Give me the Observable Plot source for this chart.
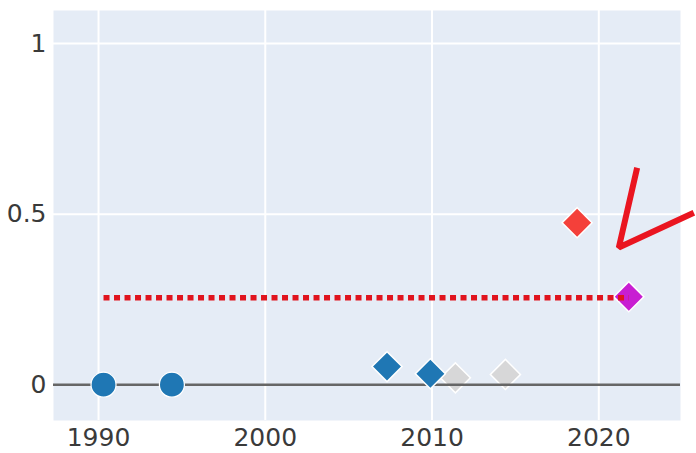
<!DOCTYPE html>
<html>
<head>
<meta charset="utf-8">
<script src="https://cdn.jsdelivr.net/npm/d3@7"></script>
<script src="https://cdn.jsdelivr.net/npm/@observablehq/plot@0.6"></script>
<style>
  html, body { margin: 0; padding: 0; background: #ffffff; }
  #chart svg { display: block; }
</style>
</head>
<body>
<div id="chart"></div>
<script>
// ---- data ----
const xTicks = [1990, 2000, 2010, 2020];
const yTicks = [0, 0.5, 1];
const yTickLabels = ["0", "0.5", "1"];

const circleYears = [1990.3, 1994.4];
const circleValues = [0, 0];

const blueDiamondYears = [2007.3, 2009.9];
const blueDiamondValues = [0.053, 0.032];

const grayDiamondYears = [2011.4, 2014.4];
const grayDiamondValues = [0.02, 0.03];

const redDiamondYears = [2018.7];
const redDiamondValues = [0.475];

const magentaDiamondYears = [2021.8];
const magentaDiamondValues = [0.258];

const refLineYears = [1990.3, 2021.8];
const refLineValues = [0.255, 0.255];

const checkYears = [2022.3, 2021.2, 2025.7];
const checkValues = [0.636, 0.402, 0.504];

// ---- build tables ----
const zip = (xs, ys) => xs.map((x, i) => ({x, y: ys[i]}));
const circles = zip(circleYears, circleValues);
const blueD = zip(blueDiamondYears, blueDiamondValues);
const grayD = zip(grayDiamondYears, grayDiamondValues);
const redD = zip(redDiamondYears, redDiamondValues);
const magD = zip(magentaDiamondYears, magentaDiamondValues);
const refLine = zip(refLineYears, refLineValues);
const check = zip(checkYears, checkValues);
const yLab = yTicks.map((v, i) => ({y: v, label: yTickLabels[i]}));
const xLab = xTicks.map(v => ({x: v, label: String(v)}));

const X0 = 1987.3, X1 = 2024.9, Y0 = -0.105, Y1 = 1.097;

const diamond = (data, fill, extra = {}) => Plot.dot(data, {
  x: "x", y: "y", symbol: "square", rotate: 45, r: 12,
  fill, stroke: "white", strokeWidth: 1.5, ...extra
});

const chart = Plot.plot({
  width: 696,
  height: 453,
  marginLeft: 53,
  marginRight: 16,
  marginTop: 10,
  marginBottom: 33,
  x: {domain: [X0, X1], axis: null},
  y: {domain: [Y0, Y1], axis: null},
  style: {fontFamily: "'DejaVu Sans', sans-serif", background: "#ffffff"},
  marks: [
    Plot.frame({fill: "#e5ecf6", stroke: null}),
    Plot.ruleX(xTicks, {stroke: "white", strokeWidth: 2}),
    Plot.ruleY(yTicks.filter(v => v !== 0), {stroke: "white", strokeWidth: 2}),
    diamond(grayD, "#d5d5d5", {fillOpacity: 0.9}),
    Plot.ruleY([0], {stroke: "#666666", strokeWidth: 2.5}),
    Plot.dot(circles, {x: "x", y: "y", r: 12.5, fill: "#1f77b4", stroke: "white", strokeWidth: 1.2}),
    diamond(blueD, "#1f77b4"),
    diamond(redD, "#f4403a"),
    diamond(magD, "#c81ed2"),
    Plot.line(refLine, {x: "x", y: "y", stroke: "#e0141e", strokeWidth: 5.5, strokeDasharray: "6,4.5", strokeLinecap: "butt"}),
    Plot.line(check, {x: "x", y: "y", stroke: "#ea1520", strokeWidth: 6, strokeLinejoin: "miter", strokeLinecap: "butt"}),
    Plot.text(yLab, {x: X0, y: "y", text: "label", textAnchor: "end", dx: -7, fontSize: 25, fill: "#3a3a3a"}),
    Plot.text(xLab, {x: "x", y: Y0, text: "label", dy: 17, fontSize: 25, fill: "#3a3a3a"})
  ]
});
document.getElementById("chart").appendChild(chart);
</script>
</body>
</html>
